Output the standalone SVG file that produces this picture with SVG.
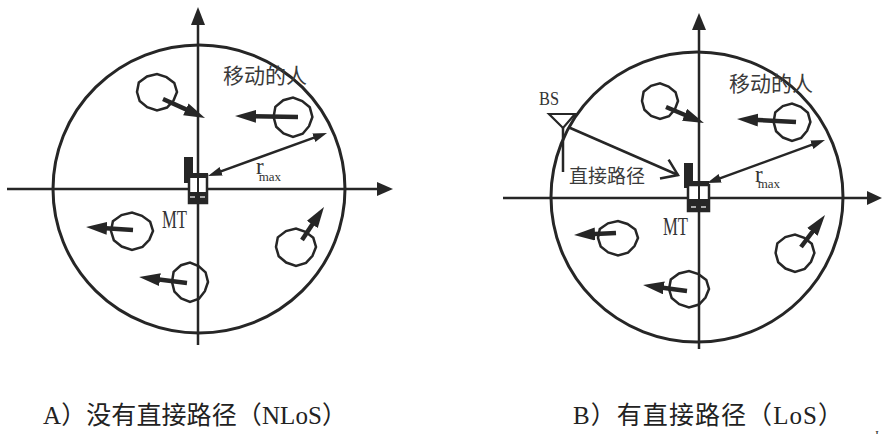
<svg xmlns="http://www.w3.org/2000/svg" width="882" height="434" viewBox="0 0 882 434">
<style>
.ln{stroke:#262626;stroke-width:2.5;fill:none}
.bd{stroke:#262626;stroke-width:3;fill:none}
.pa{stroke:#262626;stroke-width:4.5;fill:none;marker-end:url(#ah)}
.rm{stroke:#262626;stroke-width:2.5;fill:none;marker-start:url(#rh);marker-end:url(#rh)}
.fl{fill:#262626}
.zh{font-family:"Noto Sans CJK SC",sans-serif;fill:#3a3a3a}
.lat{font-family:"Liberation Serif",serif;fill:#333}
.cap{font-family:"Liberation Serif","Noto Sans CJK SC",serif;fill:#222;font-size:25px}
</style>
<defs>
<marker id="ah" markerUnits="userSpaceOnUse" markerWidth="22" markerHeight="14" refX="5" refY="6.5" orient="auto"><path d="M0,0 L21,6.5 L0,13 z" fill="#262626"/></marker>
<marker id="rh" markerUnits="userSpaceOnUse" markerWidth="15" markerHeight="10" refX="4" refY="4.5" orient="auto-start-reverse"><path d="M0,0 L14,4.5 L0,9 z" fill="#262626"/></marker>
<path id="blob" d="M20,0 L16.5,9.5 L10,17.3 L0,20.5 L-9.8,16.9 L-17.3,10 L-20,0 L-18.2,-10.5 L-10,-17.3 L0,-20 L9.5,-16.5 L17.3,-10 Z" fill="none" stroke="#262626" stroke-width="2.5" vector-effect="non-scaling-stroke"/>
</defs>

<g id="left-boundary"><ellipse class="bd" cx="199" cy="189" rx="146" ry="144"/></g>
<g id="right-boundary"><ellipse class="bd" cx="697" cy="197" rx="146" ry="145"/></g>

<g id="left-axes">
<line class="ln" x1="198" y1="345" x2="198" y2="22"/>
<polygon class="fl" points="198,7 191,25 205,25"/>
<line class="ln" x1="7" y1="189" x2="380" y2="189"/>
<polygon class="fl" points="393,189 377,182 377,196"/>
</g>
<g id="right-axes">
<line class="ln" x1="699" y1="349" x2="699" y2="26"/>
<polygon class="fl" points="699,13 692,30 706,30"/>
<line class="ln" x1="503" y1="198" x2="870" y2="198"/>
<polygon class="fl" points="882,198 867,191 867,205"/>
</g>

<g id="left-people">
<use href="#blob" transform="translate(157,92) scale(1,0.9)"/>
<use href="#blob" transform="translate(293,117) scale(0.97)"/>
<use href="#blob" transform="translate(132,231) scale(1.05,0.92)"/>
<use href="#blob" transform="translate(190,282) scale(0.9,0.97)"/>
<use href="#blob" transform="translate(296,247) scale(1,0.92)"/>
</g>
<g id="right-people">
<use href="#blob" transform="translate(660,101) scale(0.9,0.88)"/>
<use href="#blob" transform="translate(792,122) scale(0.92)"/>
<use href="#blob" transform="translate(618,238) scale(1,0.85)"/>
<use href="#blob" transform="translate(689,289) scale(1,0.9)"/>
<use href="#blob" transform="translate(795,253) scale(0.97,0.92)"/>
</g>

<g id="left-mt">
<rect class="fl" x="184" y="157" width="9" height="26"/>
<rect x="189" y="175" width="18" height="28" fill="#fff" stroke="#262626" stroke-width="2.5"/>
<rect class="fl" x="188" y="173" width="20" height="5"/>
<rect class="fl" x="188" y="192" width="20" height="12"/>
<line x1="190" y1="197" x2="195" y2="197" stroke="#fff" stroke-width="1.2"/>
<line x1="200" y1="197" x2="205" y2="197" stroke="#fff" stroke-width="1.2"/>
<line x1="198" y1="175" x2="198" y2="192" stroke="#262626" stroke-width="2"/>
</g>
<g id="right-mt">
<rect class="fl" x="684" y="163" width="9" height="25"/>
<rect x="688" y="185" width="21" height="26" fill="#fff" stroke="#262626" stroke-width="2.5"/>
<rect class="fl" x="684" y="181" width="25" height="5"/>
<rect class="fl" x="688" y="199" width="21" height="12"/>
<line x1="691" y1="207" x2="696" y2="207" stroke="#fff" stroke-width="1.2"/>
<line x1="701" y1="207" x2="706" y2="207" stroke="#fff" stroke-width="1.2"/>
<line x1="699" y1="186" x2="699" y2="199" stroke="#262626" stroke-width="2"/>
</g>

<g id="bs">
<polygon points="549,114 575,114 563,128" fill="#fff" stroke="#262626" stroke-width="2.2"/>
<line class="ln" x1="563" y1="128" x2="563" y2="172"/>
</g>

<g id="connectors">
<line class="pa" x1="163" y1="99" x2="190.4" y2="111.4"/>
<line class="pa" x1="298" y1="117" x2="251" y2="116.3"/>
<line class="pa" x1="133" y1="230" x2="102" y2="228"/>
<line class="pa" x1="187" y1="283" x2="155" y2="279"/>
<line class="pa" x1="302" y1="240" x2="315.1" y2="220.3"/>
<line class="pa" x1="666" y1="107" x2="689.2" y2="116.8"/>
<line class="pa" x1="796" y1="122" x2="753" y2="119.8"/>
<line class="pa" x1="616" y1="233" x2="590" y2="234.2"/>
<line class="pa" x1="687" y1="291" x2="658.9" y2="287.2"/>
<line class="pa" x1="801" y1="247" x2="815.4" y2="227.8"/>
<line class="rm" x1="217.4" y1="172.6" x2="317.6" y2="136.4"/>
<line class="rm" x1="716.4" y1="179.6" x2="815.6" y2="143.4"/>
<line class="ln" x1="568" y1="127" x2="678" y2="175"/>
<polyline class="ln" points="660,178.6 678,175 668.6,159.6"/>
</g>

<g id="labels">
<text class="zh" x="223" y="83" font-size="21">移动的人</text>
<text class="zh" x="729" y="91" font-size="21">移动的人</text>
<text class="zh" x="569" y="183" font-size="19">直接路径</text>
<text class="lat" x="162" y="228" font-size="25" textLength="25" lengthAdjust="spacingAndGlyphs">MT</text>
<text class="lat" x="663" y="235" font-size="25" textLength="25" lengthAdjust="spacingAndGlyphs">MT</text>
<text class="lat" x="539" y="105" font-size="18" textLength="20" lengthAdjust="spacingAndGlyphs">BS</text>
<text class="lat" x="256" y="174" font-size="23">r<tspan dx="-5" dy="7" font-size="13">max</tspan></text>
<text class="lat" x="755" y="182" font-size="23">r<tspan dx="-5" dy="6" font-size="13">max</tspan></text>
<text class="cap" x="43" y="424" textLength="304" lengthAdjust="spacing">A）没有直接路径（NLoS）</text>
<text class="cap" x="573" y="424" textLength="270" lengthAdjust="spacing">B）有直接路径（LoS）</text>
<text class="lat" x="875" y="439" font-size="12">I</text>
</g>
</svg>
